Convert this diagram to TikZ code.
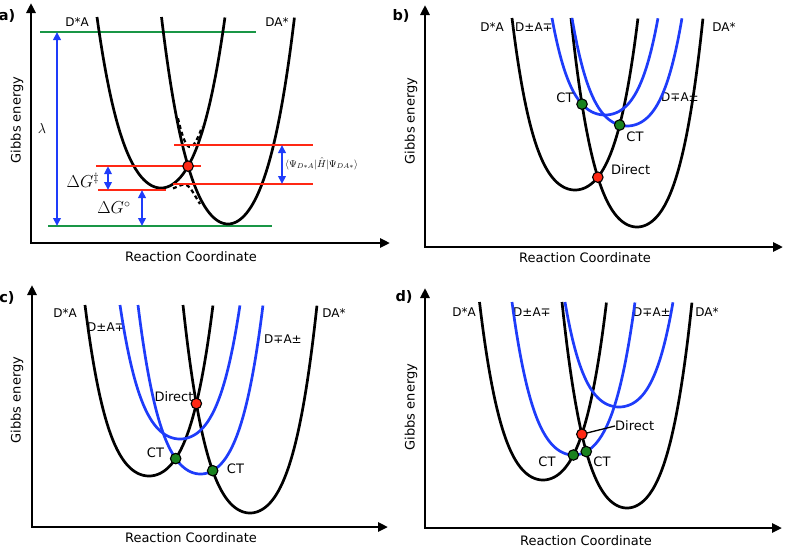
\documentclass[tikz,border=0pt]{standalone}
\usepackage[no-math]{fontspec}
\setmainfont{DejaVu Sans}
\usetikzlibrary{arrows.meta,intersections}
\definecolor{cblue}{RGB}{30,60,250}
\definecolor{cred}{RGB}{255,40,20}
\definecolor{cgreen}{RGB}{25,150,70}
\definecolor{cdot}{RGB}{25,130,30}
\newcommand\wellplot[5]{plot[domain=-1:1,samples=101] ({#1+#2*\x},{#3-(#3-#4)*(#5*\x*\x+(1-#5)*\x*\x*\x*\x)})}
\begin{document}
\begin{tikzpicture}[x=1pt,y=-1pt,
  blk/.style={line width=2.7pt,black},
  bl/.style={line width=2.7pt,cblue},
  axes/.style={line width=2.6pt,{Triangle[length=10pt,width=9pt]}-{Triangle[length=10pt,width=9pt]}},
  grn/.style={line width=2.6pt,cgreen},
  redl/.style={line width=2.6pt,cred},
  barrow/.style={line width=2pt,cblue,{Triangle[length=8pt,width=7.5pt]}-{Triangle[length=8pt,width=7.5pt]}},
  dsh/.style={line width=2.2pt,dash pattern=on 4pt off 3pt},
  gdot/.style={circle,draw=black,fill=cdot,line width=1.1pt,minimum size=10.5pt,inner sep=0pt},
  rdot/.style={circle,draw=black,fill=cred,line width=1.1pt,minimum size=10.5pt,inner sep=0pt},
  lab/.style={font=\fontsize{12}{14}\selectfont,inner sep=0pt},
  ptl/.style={font=\fontsize{13}{15}\selectfont,inner sep=0pt},
  axl/.style={font=\fontsize{13}{15}\selectfont,inner sep=0pt},
  pan/.style={font=\bfseries\fontsize{14.5}{16}\selectfont,inner sep=0pt},
  declare function={ga(\z)=0.65*\z*\z+0.35*\z*\z*\z*\z;
    ea(\z)=188-171*ga((\z-161)/64);
    eb(\z)=224-207*ga((\z-228)/66.5);}
]
\useasboundingbox (0,0) rectangle (785,549);

% ================= panel a =================
\node[pan] (alab) at (7,16) {a)};
\coordinate (aY) at (31,3); \coordinate (aO) at (31,243); \coordinate (aX) at (390,243);
\draw[axes] (aY) -- (aO) -- (aX);
\node[axl,rotate=90] (agibbs) at (17,120) {Gibbs energy};
\node[axl] (areac) at (191,257) {Reaction Coordinate};
\node[lab] (aDsA) at (77,22) {D*A};
\node[lab] (aDAs) at (277,22) {DA*};
% green lines
\coordinate (gT1) at (40,32); \coordinate (gT2) at (256,32);
\coordinate (gB1) at (48,226); \coordinate (gB2) at (272,226);
\draw[grn] (gT1) -- (gT2);
\draw[grn] (gB1) -- (gB2);
% wells
\draw[blk,name path=aP1] \wellplot{161}{64}{188}{17}{0.65};
\draw[blk,name path=aP2] \wellplot{228}{66.5}{224}{17}{0.65};
\draw[dsh] plot[domain=178:202,samples=40] (\x,{0.5*(ea(\x)+eb(\x))-sqrt(0.25*(ea(\x)-eb(\x))*(ea(\x)-eb(\x))+400)});
\draw[dsh] plot[domain=173:200,samples=40] (\x,{0.5*(ea(\x)+eb(\x))+sqrt(0.25*(ea(\x)-eb(\x))*(ea(\x)-eb(\x))+400)});
\path[name intersections={of=aP1 and aP2,by=ia}];
% red lines
\coordinate (r1l) at (96,0); \coordinate (r1r) at (201,0);
\draw[redl] (r1l |- ia) -- (r1r |- ia);
\coordinate (r2l) at (98,190); \coordinate (r2r) at (166,190);
\draw[redl] (r2l) -- (r2r);
\coordinate (r3l) at (174,145); \coordinate (r3r) at (313,145);
\coordinate (r4l) at (173,184); \coordinate (r4r) at (313,184);
\draw[redl] (r3l) -- (r3r);
\draw[redl] (r4l) -- (r4r);
% arrows
\coordinate (lamT) at (57,32); \coordinate (lamB) at (57,226);
\draw[barrow] (lamT) -- (lamB);
\coordinate (dgs) at (108,190);
\draw[barrow] (dgs |- ia) -- (dgs);
\coordinate (dg0T) at (142,190); \coordinate (dg0B) at (142,226);
\draw[barrow] (dg0T) -- (dg0B);
\coordinate (cpT) at (282,145); \coordinate (cpB) at (282,184);
\draw[barrow] (cpT) -- (cpB);
\node[inner sep=0pt,font=\fontsize{14.4}{16}\selectfont] (alam) at (42,128) {$\lambda$};
\node[inner sep=0pt,font=\fontsize{17.28}{20}\selectfont] (adgs) at (83,180) {$\Delta G^{\ddagger}$};
\node[inner sep=0pt,font=\fontsize{17.28}{20}\selectfont] (adg0) at (114,208) {$\Delta G^{\circ}$};
\node[inner sep=0pt,anchor=west,font=\fontsize{10}{12}\selectfont] (acoup) at (285,164) {$\langle\Psi_{D*A}|\hat{H}|\Psi_{DA*}\rangle$};
\node[rdot] (adot) at (ia) {};

% ================= panel b =================
\node[pan] (blab) at (401,16) {b)};
\coordinate (bY) at (425,5); \coordinate (bO) at (425,247); \coordinate (bX) at (783,247);
\draw[axes] (bY) -- (bO) -- (bX);
\node[axl,rotate=90] (bgibbs) at (411,121) {Gibbs energy};
\node[axl] (breac) at (585,258) {Reaction Coordinate};
\node[lab] (bDsA) at (492,27) {D*A};
\node[lab] (bDpA) at (534,27) {D±A∓};
\node[lab] (bDAs) at (724,27) {DA*};
\node[lab] (bDmA) at (680,97) {D∓A±};
\draw[blk,name path=bP1] \wellplot{575}{63}{190}{18}{0.5};
\draw[blk,name path=bP2] \wellplot{637}{66}{227}{18}{0.5};
\draw[bl,name path=bB1] \wellplot{605}{53}{115}{18}{0.5};
\draw[bl,name path=bB2] \wellplot{627}{55}{126}{18}{0.5};
\path[name intersections={of=bP1 and bP2,by=ibd}];
\path[name intersections={of=bP2 and bB1,by=ibc1}];
\path[name intersections={of=bP1 and bB2,by=ibc2}];
\node[rdot] (bdir) at (ibd) {};
\node[gdot] (bct1) at (ibc1) {};
\node[gdot] (bct2) at (ibc2) {};
\node[ptl] (bCT1) at (565,98) {CT};
\node[ptl] (bCT2) at (635,137) {CT};
\node[ptl,anchor=west] (bDir) at (611,170) {Direct};

% ================= panel c =================
\node[pan] (clab) at (7,298) {c)};
\coordinate (cY) at (32,285); \coordinate (cO) at (32,527); \coordinate (cX) at (388,527);
\draw[axes] (cY) -- (cO) -- (cX);
\node[axl,rotate=90] (cgibbs) at (17,400) {Gibbs energy};
\node[axl] (creac) at (191,538) {Reaction Coordinate};
\node[lab] (cDsA) at (65,313) {D*A};
\node[lab] (cDpA) at (106,327) {D±A∓};
\node[lab] (cDmA) at (283,339) {D∓A±};
\node[lab] (cDAs) at (334,313) {DA*};
\draw[blk,name path=cP1] \wellplot{149}{64}{476}{305}{0.5};
\draw[blk,name path=cP2] \wellplot{250}{67}{513}{305}{0.5};
\draw[bl,name path=cB1] \wellplot{180}{60}{439}{305}{0.5};
\draw[bl,name path=cB2] \wellplot{200.5}{62.5}{474}{305}{0.5};
\path[name intersections={of=cP1 and cP2,by=icd}];
\path[name intersections={of=cP1 and cB2,by=icc1}];
\path[name intersections={of=cP2 and cB2,by=icc2}];
\node[rdot] (cdir) at (icd) {};
\node[gdot] (cct1) at (icc1) {};
\node[gdot] (cct2) at (icc2) {};
\node[ptl] (cDir) at (174,397) {Direct};
\node[ptl] (cCT1) at (155.5,453) {CT};
\node[ptl] (cCT2) at (235.5,469) {CT};

% ================= panel d =================
\node[pan] (dlab) at (404,297) {d)};
\coordinate (dY) at (425,288); \coordinate (dO) at (425,528); \coordinate (dX) at (782,528);
\draw[axes] (dY) -- (dO) -- (dX);
\node[axl,rotate=90] (dgibbs) at (411,407) {Gibbs energy};
\node[axl] (dreac) at (586,541) {Reaction Coordinate};
\node[lab] (dDsA) at (464,312) {D*A};
\node[lab] (dDpA) at (532,312) {D±A∓};
\node[lab] (dDmA) at (652,312) {D∓A±};
\node[lab] (dDAs) at (707,312) {DA*};
\draw[blk,name path=dP1] \wellplot{543}{63.5}{480}{302}{0.5};
\draw[blk,name path=dP2] \wellplot{627}{65}{508}{302}{0.5};
\draw[bl,name path=dB1] \wellplot{573.5}{61.5}{455}{302}{0.5};
\draw[bl,name path=dB2] \wellplot{619}{54}{407}{302}{0.5};
\path[name intersections={of=dP1 and dP2,by=idd}];
\path[name intersections={of=dP1 and dB1,by=idc1}];
\path[name intersections={of=dP2 and dB1,by=idc2}];
\node[ptl,anchor=west] (dDir) at (615,426) {Direct};
\draw[line width=1.3pt] (idd) -- (dDir.west);
\node[rdot] (ddir) at (idd) {};
\node[gdot] (dct1) at (idc1) {};
\node[gdot] (dct2) at (idc2) {};
\node[ptl] (dCT1) at (547,461.5) {CT};
\node[ptl] (dCT2) at (602,461.5) {CT};
\end{tikzpicture}
\end{document}
